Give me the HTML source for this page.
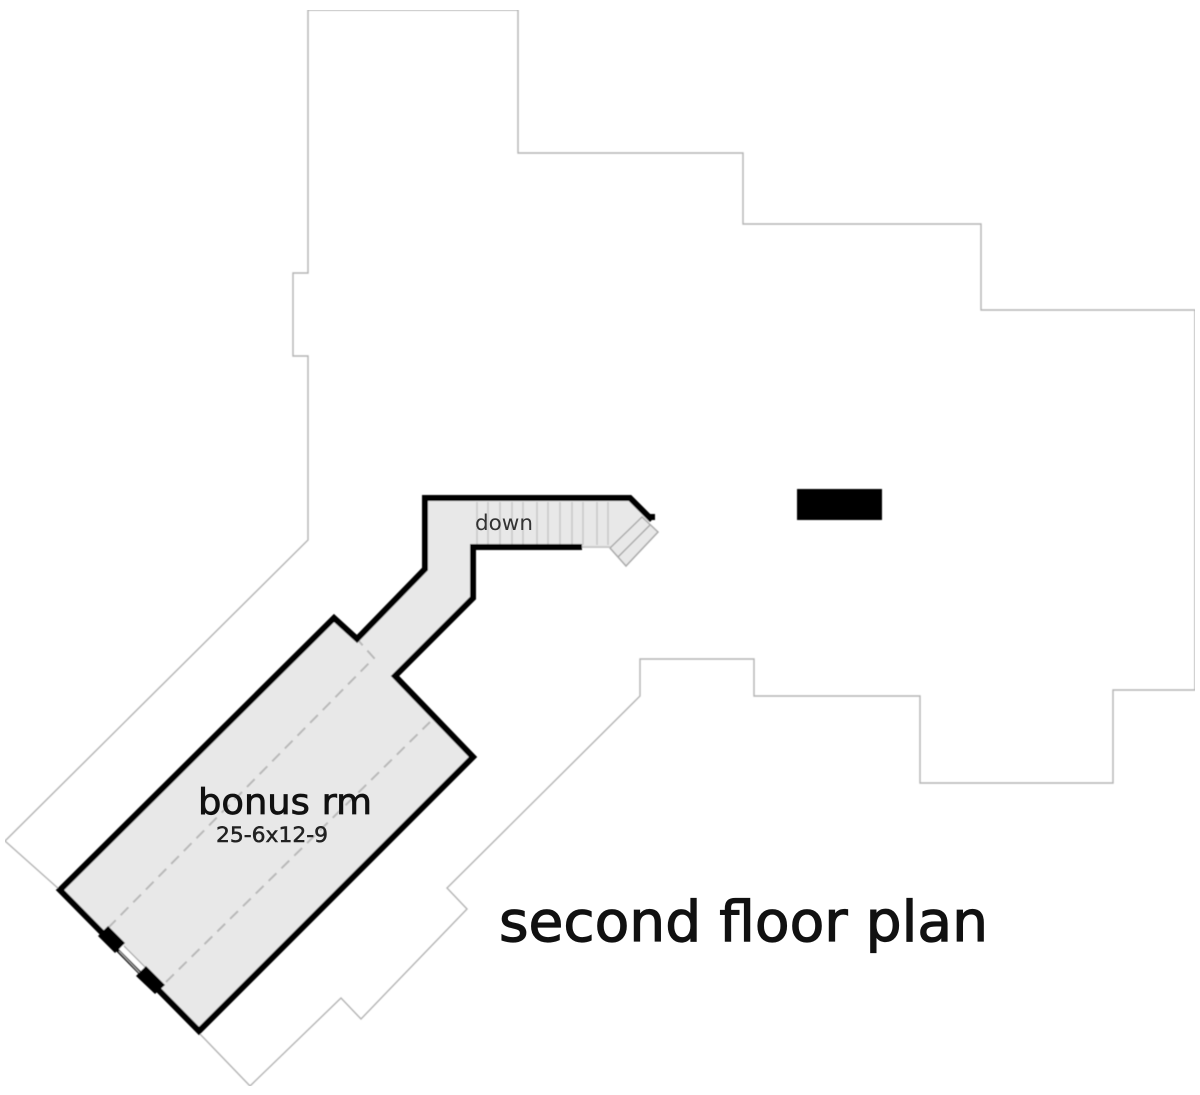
<!DOCTYPE html>
<html><head><meta charset="utf-8">
<style>html,body{margin:0;padding:0;background:#fff}svg{display:block}text{font-family:"DejaVu Sans","Liberation Sans",sans-serif}</style>
</head><body>
<svg width="1200" height="1095" viewBox="0 0 1200 1095" xmlns="http://www.w3.org/2000/svg">
<defs><filter id="b" x="0" y="0" width="100%" height="100%"><feGaussianBlur stdDeviation="0.5"/></filter></defs>
<rect width="1200" height="1095" fill="#fff"/>
<g filter="url(#b)">
<g fill="none" stroke="#b4b4b4" stroke-width="1.4">
<polyline points="60,890 5,841 308,540 308,356 293,356 293,273 308,273 308,10 518,10 518,153 743,153 743,224 981,224 981,310 1195,310 1195,690 1113,690 1113,783 920,783 920,696 754,696 754,659 640,659 640,696 447,888 467,909 361,1019 341,998 250,1086 199,1033"/>
</g>
<polygon points="425,498 630,498 652,520 610,548 473,547 473,598 395,676 473,757 199,1031 60,890 334,618 357,639 425,569" fill="#e8e8e8"/>
<polygon points="642,517 658,532 626,566 610,548" fill="#e8e8e8" stroke="#aaa" stroke-width="1.5"/>
<line x1="650" y1="525" x2="618" y2="557" stroke="#aaa" stroke-width="1.5"/>
<g stroke="#c8c8c8" stroke-width="1.5">
<line x1="477" y1="502" x2="477" y2="545"/><line x1="488" y1="502" x2="488" y2="545"/><line x1="500" y1="502" x2="500" y2="545"/><line x1="512" y1="502" x2="512" y2="545"/><line x1="523" y1="502" x2="523" y2="545"/>
<line x1="537" y1="502" x2="537" y2="545"/><line x1="548" y1="502" x2="548" y2="545"/><line x1="560" y1="502" x2="560" y2="545"/><line x1="572" y1="502" x2="572" y2="545"/><line x1="583" y1="502" x2="583" y2="545"/><line x1="597" y1="502" x2="597" y2="545"/><line x1="608" y1="502" x2="608" y2="545"/>
<line x1="582" y1="547" x2="610" y2="547" stroke-width="2"/>
</g>
<g fill="none" stroke="#b8b8b8" stroke-width="2" stroke-dasharray="11 7">
<polyline points="108,928 374,658 357,639"/>
<line x1="166" y1="982" x2="430" y2="722"/>
</g>
<g fill="none" stroke="#000" stroke-width="6" stroke-linejoin="miter">
<polyline points="582,547 473,547 473,598 395,676 473,757 199,1031 60,890 334,618 357,639 425,569 425,498 630,498 652,520"/>
</g>
<line x1="648" y1="517" x2="655" y2="517" stroke="#000" stroke-width="6"/>
<g stroke="#fff" stroke-width="6"><line x1="121" y1="947" x2="143" y2="969"/></g>
<g stroke="#aaa" stroke-width="1.3"><line x1="119" y1="951" x2="140" y2="973"/><line x1="124" y1="946" x2="145" y2="967"/></g>
<polygon points="108,926 125,943 115,953 98,936" fill="#000"/>
<polygon points="146,966 165,985 155,994 136,976" fill="#000"/>
<rect x="797" y="489" width="85" height="31" fill="#000"/>
</g>
<text x="475" y="530" font-size="21" textLength="58" lengthAdjust="spacingAndGlyphs" fill="#333">down</text>
<text x="198" y="814" font-size="36" textLength="174" lengthAdjust="spacingAndGlyphs" fill="#111" stroke="#111" stroke-width="0.8">bonus rm</text>
<text x="216" y="842" font-size="21" textLength="112" lengthAdjust="spacingAndGlyphs" fill="#222" stroke="#222" stroke-width="0.5">25-6x12-9</text>
<text x="499" y="941" font-size="56" textLength="489" lengthAdjust="spacingAndGlyphs" fill="#111" stroke="#111" stroke-width="1.2">second floor plan</text>
</svg>
</body></html>
